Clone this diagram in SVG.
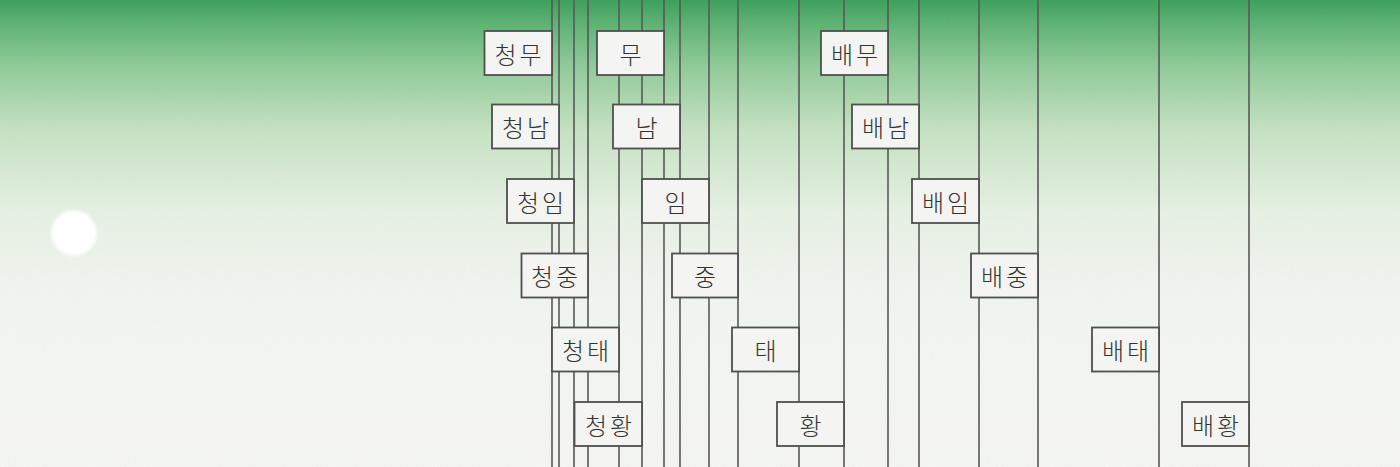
<svg xmlns="http://www.w3.org/2000/svg" width="1400" height="467" viewBox="0 0 1400 467">
  <style>
    .ln { stroke: #585858; stroke-width: 1.6; }
    .bx { fill: #f4f5f2; stroke: #4f4f4f; stroke-width: 1.8; }
    .tx { font-family: "Noto Sans CJK KR", "Noto Sans", sans-serif; font-size: 24px; font-weight: 300; fill: #333333; text-anchor: middle; dominant-baseline: central; letter-spacing: 3px; }
  </style>
  <defs>
    <linearGradient id="bg" x1="0" y1="0" x2="0" y2="1">
      <stop offset="0" stop-color="#3c9f5b"/>
      <stop offset="0.05" stop-color="#5db273"/>
      <stop offset="0.14" stop-color="#8fca98"/>
      <stop offset="0.28" stop-color="#c6e2c3"/>
      <stop offset="0.45" stop-color="#e6f1e3"/>
      <stop offset="0.62" stop-color="#f1f5ef"/>
      <stop offset="1" stop-color="#f5f6f3"/>
    </linearGradient>
    <radialGradient id="dot">
      <stop offset="0.8" stop-color="#ffffff"/>
      <stop offset="1" stop-color="#ffffff" stop-opacity="0"/>
    </radialGradient>
    <filter id="paper" x="0" y="0" width="100%" height="100%">
      <feTurbulence type="fractalNoise" baseFrequency="0.9" numOctaves="2" seed="3" result="n"/>
      <feColorMatrix type="matrix" values="0 0 0 0 0.45  0 0 0 0 0.47  0 0 0 0 0.45  0 0 0 -1.1 0.75" result="c"/>
      <feComposite in="c" in2="SourceGraphic" operator="in"/>
    </filter>
  </defs>
  <rect x="0" y="0" width="1400" height="467" fill="url(#bg)"/>
  <rect x="0" y="0" width="1400" height="467" fill="#000" filter="url(#paper)" opacity="0.12"/>
  <circle cx="74" cy="233" r="25" fill="url(#dot)"/>

  <g id="connectors">
    <line class="ln" x1="552" y1="0" x2="552" y2="467"/>
    <line class="ln" x1="559" y1="0" x2="559" y2="467"/>
    <line class="ln" x1="574" y1="0" x2="574" y2="467"/>
    <line class="ln" x1="588" y1="0" x2="588" y2="467"/>
    <line class="ln" x1="619" y1="0" x2="619" y2="467"/>
    <line class="ln" x1="642" y1="0" x2="642" y2="467"/>
    <line class="ln" x1="664" y1="0" x2="664" y2="467"/>
    <line class="ln" x1="680" y1="0" x2="680" y2="467"/>
    <line class="ln" x1="709" y1="0" x2="709" y2="467"/>
    <line class="ln" x1="738" y1="0" x2="738" y2="467"/>
    <line class="ln" x1="799" y1="0" x2="799" y2="467"/>
    <line class="ln" x1="844" y1="0" x2="844" y2="467"/>
    <line class="ln" x1="888" y1="0" x2="888" y2="467"/>
    <line class="ln" x1="919" y1="0" x2="919" y2="467"/>
    <line class="ln" x1="979" y1="0" x2="979" y2="467"/>
    <line class="ln" x1="1038" y1="0" x2="1038" y2="467"/>
    <line class="ln" x1="1159" y1="0" x2="1159" y2="467"/>
    <line class="ln" x1="1249" y1="0" x2="1249" y2="467"/>
  </g>

  <g id="n-cheongmu"><rect class="bx" x="484.5" y="31" width="67.5" height="44"/><text class="tx" x="519.5" y="53">청무</text></g>
  <g id="n-mu"><rect class="bx" x="597" y="31" width="67" height="44"/><text class="tx" x="632" y="53">무</text></g>
  <g id="n-baemu"><rect class="bx" x="821" y="31" width="67" height="44"/><text class="tx" x="856" y="53">배무</text></g>

  <g id="n-cheongnam"><rect class="bx" x="492" y="104.5" width="67" height="44"/><text class="tx" x="527" y="126.5">청남</text></g>
  <g id="n-nam"><rect class="bx" x="613" y="104.5" width="67" height="44"/><text class="tx" x="648" y="126.5">남</text></g>
  <g id="n-baenam"><rect class="bx" x="852" y="104.5" width="67" height="44"/><text class="tx" x="887" y="126.5">배남</text></g>

  <g id="n-cheongim"><rect class="bx" x="507" y="179" width="67" height="44"/><text class="tx" x="542" y="201">청임</text></g>
  <g id="n-im"><rect class="bx" x="642" y="179" width="67" height="44"/><text class="tx" x="677" y="201">임</text></g>
  <g id="n-baeim"><rect class="bx" x="912" y="179" width="67" height="44"/><text class="tx" x="947" y="201">배임</text></g>

  <g id="n-cheongjung"><rect class="bx" x="521.5" y="253.5" width="66.5" height="44"/><text class="tx" x="556" y="275.5">청중</text></g>
  <g id="n-jung"><rect class="bx" x="672" y="253.5" width="66" height="44"/><text class="tx" x="706.5" y="275.5">중</text></g>
  <g id="n-baejung"><rect class="bx" x="971" y="253.5" width="67" height="44"/><text class="tx" x="1006" y="275.5">배중</text></g>

  <g id="n-cheongtae"><rect class="bx" x="552" y="327.5" width="67" height="44"/><text class="tx" x="587" y="349.5">청태</text></g>
  <g id="n-tae"><rect class="bx" x="732" y="327.5" width="67" height="44"/><text class="tx" x="767" y="349.5">태</text></g>
  <g id="n-baetae"><rect class="bx" x="1092" y="327.5" width="67" height="44"/><text class="tx" x="1127" y="349.5">배태</text></g>

  <g id="n-cheonghwang"><rect class="bx" x="574.5" y="402" width="67.5" height="44"/><text class="tx" x="610" y="424">청황</text></g>
  <g id="n-hwang"><rect class="bx" x="777" y="402" width="67" height="44"/><text class="tx" x="812" y="424">황</text></g>
  <g id="n-baehwang"><rect class="bx" x="1182" y="402" width="67" height="44"/><text class="tx" x="1217" y="424">배황</text></g>
</svg>
